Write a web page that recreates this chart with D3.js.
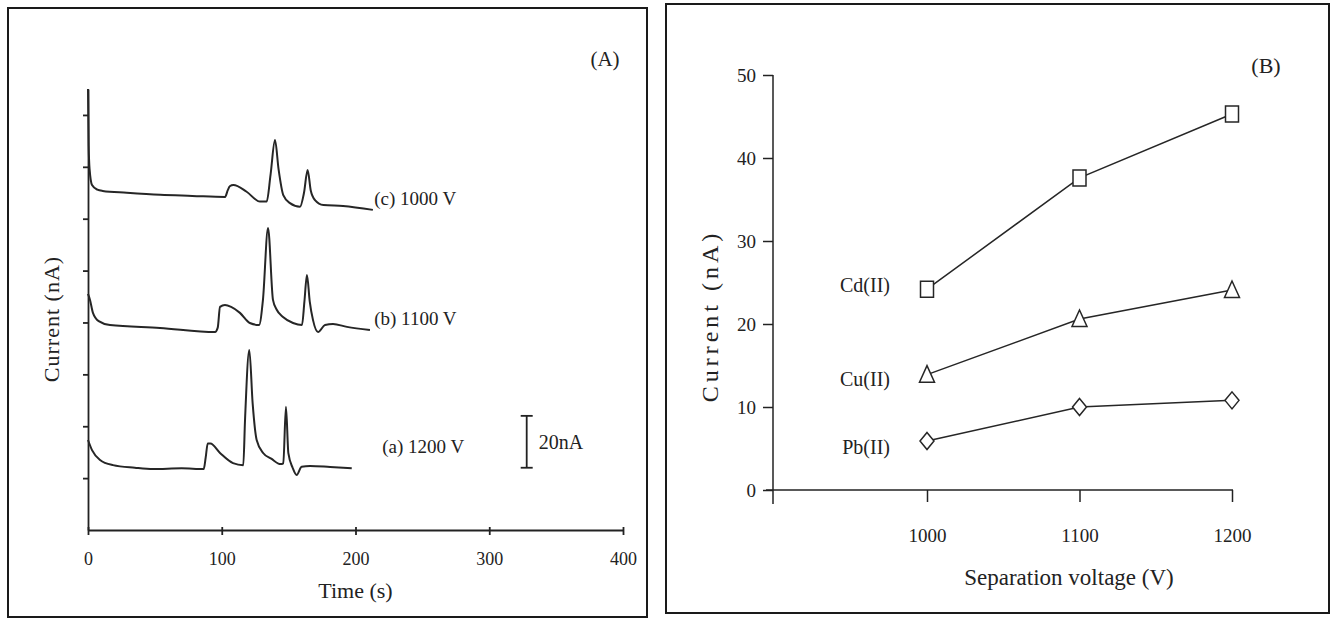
<!DOCTYPE html>
<head>
  <meta charset="utf-8">
  <script src="https://d3js.org/d3.v7.min.js"></script>
  <style>
    body { margin: 0; background: #fff; }
    svg { font-family: "Liberation Serif", "Times New Roman", serif; }
    .frame { fill: none; stroke: #1a1a1a; stroke-width: 2px; }
    .axis path, .axis line { stroke: #222; stroke-width: 1.8px; }
    .axis text { font-family: "Liberation Serif", serif; font-size: 18px; fill: #222; }
    .axis-b path, .axis-b line { stroke-width: 1.5px; }
    .axis-b text { font-size: 19px; }
    .trace { fill: none; stroke: #262626; stroke-width: 2px; stroke-linejoin: round; }
    .label { fill: #222; }
    .series-line { fill: none; stroke: #262626; stroke-width: 1.5px; }
    .marker { fill: #fff; stroke: #262626; stroke-width: 1.5px; }
  </style>
</head>

<body>
  <script>
    // ---- panel A : electropherograms ----
    var timeTicks = [0, 100, 200, 300, 400];
    var currentTicksA = [20, 40, 60, 80, 100, 120, 140, 160];

    // [time (s), current (nA)]
    var traceC = [[0,170],[0.5,148],[1.2,139],[3,133],[7,131.2],[11,130.7],[29,130],[54,129.2],[78,128.8],
      [102.5,128.4],[104.5,131],[106,132.5],[108.7,133],[118.6,130.4],[128.6,126.6],[133.6,126.6],
      [136.5,137],[139.8,150.3],[142.5,139],[146,129.1],[151,126],[158.5,124.6],[161.5,130],[164.2,138.8],
      [166.5,131],[169.7,127.2],[176,125.3],[190.7,124.9],[213,123.4]];
    var traceB = [[0,91],[1.5,88.7],[3.7,83.7],[8,80.5],[16.4,79],[53.8,77.9],[95,76.3],[97,78],[98.7,86],
      [102.4,86.7],[107,86],[113.6,83.7],[121,79.8],[127.9,79],[130.8,88.7],[134.6,116.4],[138.3,88.7],
      [141,85],[145.8,82.1],[153.3,79.8],[160,79],[161.8,88],[163.7,98.3],[165.8,88],[168.2,81],[172,76.3],
      [177.2,79],[183.2,79.4],[193.6,78.3],[210.8,77.1]];
    var traceA = [[0,34.7],[3,30.8],[9,27],[18.7,25],[35,24],[48.6,23.5],[70,23.8],[86.5,23.5],[88,28],
      [89.5,33.3],[91.5,33.3],[98.7,29.7],[108.4,25.8],[116.1,25],[117.4,42.4],[120.6,69.4],[123.1,48.8],
      [126.1,34.7],[131.1,29.6],[137,27.5],[144,25.4],[146,25.7],[148,47.5],[149.8,29.6],[153,24],[156,21.2],
      [159.7,24.4],[166,24.7],[181,24.3],[197.2,23.8]];
    var traceLabels = ["(c) 1000 V", "(b) 1100 V", "(a) 1200 V"];

    // ---- panel B : current vs separation voltage ----
    var voltages = [1000, 1100, 1200];
    var cdValues = [24.2, 37.6, 45.3];
    var cuValues = [13.9, 20.6, 24.1];
    var pbValues = [5.9, 10.0, 10.8];
    var ionNames = ["Cd(II)", "Cu(II)", "Pb(II)"];
    var currentTicksB = [0, 10, 20, 30, 40, 50];

    var svg = d3.select("body").append("svg")
        .attr("width", 1336)
        .attr("height", 619);

    // ========== A ==========
    svg.append("rect").attr("class", "frame")
        .attr("x", 8).attr("y", 8).attr("width", 639).attr("height", 609);

    var xA = d3.scaleLinear().domain([0, 400]).range([88, 623]);
    var yA = d3.scaleLinear().domain([0, 170]).range([530, 89]);

    var gxA = svg.append("g")
        .attr("class", "axis")
        .attr("transform", "translate(0," + yA(0) + ")")
        .call(d3.axisBottom(xA).tickValues(timeTicks).tickSizeInner(5).tickSizeOuter(0).tickPadding(17));
    gxA.selectAll(".tick line").attr("y1", -3);

    svg.append("g")
        .attr("class", "axis")
        .attr("transform", "translate(" + xA(0) + ",0)")
        .call(d3.axisLeft(yA).tickValues(currentTicksA).tickSize(5).tickSizeOuter(0).tickFormat(""));

    var lineA = d3.line()
        .x(function(d) { return xA(d[0]); })
        .y(function(d) { return yA(d[1]); })
        .curve(d3.curveMonotoneX);

    var traces = [traceC, traceB, traceA];
    svg.selectAll(".trace")
        .data(traces)
      .enter().append("path")
        .attr("class", "trace")
        .attr("d", lineA);

    // label anchors in data units
    var labelAt = [[214, 128], [214, 81.6], [220, 32.4]];
    svg.selectAll(".trace-label")
        .data(traceLabels)
      .enter().append("text")
        .attr("class", "label trace-label")
        .attr("x", function(d, i) { return xA(labelAt[i][0]); })
        .attr("y", function(d, i) { return yA(labelAt[i][1]); })
        .attr("dy", "0.35em")
        .style("font-size", "19px")
        .text(function(d) { return d; });

    // 20 nA scale bar
    var barX = xA(328);
    var bar = svg.append("g").attr("class", "axis");
    bar.append("line").attr("x1", barX).attr("x2", barX).attr("y1", yA(24)).attr("y2", yA(44));
    bar.append("line").attr("x1", barX - 6).attr("x2", barX + 6).attr("y1", yA(24)).attr("y2", yA(24));
    bar.append("line").attr("x1", barX - 6).attr("x2", barX + 6).attr("y1", yA(44)).attr("y2", yA(44));
    svg.append("text").attr("class", "label")
        .attr("x", barX + 12).attr("y", yA(34)).attr("dy", "0.35em")
        .style("font-size", "20px")
        .text("20nA");

    svg.append("text").attr("class", "label")
        .attr("x", xA(200)).attr("y", 590).attr("dy", "0.35em")
        .attr("text-anchor", "middle")
        .style("font-size", "22px")
        .text("Time (s)");

    svg.append("text").attr("class", "label")
        .attr("transform", "translate(51," + 319 + ") rotate(-90)")
        .attr("dy", "0.35em")
        .attr("text-anchor", "middle")
        .style("font-size", "22px")
        .style("letter-spacing", "1px")
        .text("Current (nA)");

    svg.append("text").attr("class", "label")
        .attr("x", 605).attr("y", 59).attr("dy", "0.35em")
        .attr("text-anchor", "middle")
        .style("font-size", "21px")
        .text("(A)");

    // ========== B ==========
    svg.append("rect").attr("class", "frame")
        .attr("x", 666).attr("y", 4).attr("width", 663).attr("height", 609);

    var xB = d3.scaleLinear().domain([1000, 1200]).range([927, 1232]);
    var yB = d3.scaleLinear().domain([0, 50]).range([490, 75]);
    var yAxisX = 773;

    var gxB = svg.append("g")
        .attr("class", "axis axis-b")
        .attr("transform", "translate(0," + yB(0) + ")")
        .call(d3.axisBottom(xB).tickValues(voltages).tickSize(12).tickSizeOuter(0).tickPadding(27)
          .tickFormat(d3.format("d")));
    gxB.select(".domain").attr("d", "M" + (yAxisX - 7) + ",0H" + (xB(1200) + 1));

    var gyB = svg.append("g")
        .attr("class", "axis axis-b")
        .attr("transform", "translate(" + yAxisX + ",0)")
        .call(d3.axisLeft(yB).tickValues(currentTicksB).tickSize(10).tickSizeOuter(0).tickPadding(7));
    gyB.select(".domain").attr("d", "M0," + yB(50) + "V" + (yB(0) + 14));

    var series = [cdValues, cuValues, pbValues];
    var lineB = d3.line()
        .x(function(d, i) { return xB(voltages[i]); })
        .y(function(d) { return yB(d); });

    svg.selectAll(".series-line")
        .data(series)
      .enter().append("path")
        .attr("class", "series-line")
        .attr("d", lineB);

    var shapes = [
      function(w) { return "M-6.5,-8H6.5V8H-6.5Z"; },
      function(w) { return "M0,-9L7.5,7.5H-7.5Z"; },
      function(w) { return "M0,-8.5L7,0L0,8.5L-7,0Z"; }
    ];

    series.forEach(function(vals, k) {
      svg.selectAll(".marker-" + k)
          .data(vals)
        .enter().append("path")
          .attr("class", "marker marker-" + k)
          .attr("transform", function(d, i) { return "translate(" + xB(voltages[i]) + "," + yB(d) + ")"; })
          .attr("d", shapes[k]);
    });

    var ionDy = [-4, 4, 6];
    svg.selectAll(".ion-label")
        .data(ionNames)
      .enter().append("text")
        .attr("class", "label ion-label")
        .attr("x", xB(1000) - 37)
        .attr("y", function(d, i) { return yB(series[i][0]) + ionDy[i]; })
        .attr("dy", "0.35em")
        .attr("text-anchor", "end")
        .style("font-size", "20px")
        .text(function(d) { return d; });

    svg.append("text").attr("class", "label")
        .attr("x", 1069).attr("y", 577).attr("dy", "0.35em")
        .attr("text-anchor", "middle")
        .style("font-size", "23px")
        .text("Separation voltage (V)");

    svg.append("text").attr("class", "label")
        .attr("transform", "translate(710," + 316 + ") rotate(-90)")
        .attr("dy", "0.35em")
        .attr("text-anchor", "middle")
        .style("font-size", "24px")
        .style("letter-spacing", "4px")
        .text("Current (nA)");

    svg.append("text").attr("class", "label")
        .attr("x", 1266).attr("y", 65).attr("dy", "0.35em")
        .attr("text-anchor", "middle")
        .style("font-size", "22px")
        .text("(B)");
  </script>
</body>
